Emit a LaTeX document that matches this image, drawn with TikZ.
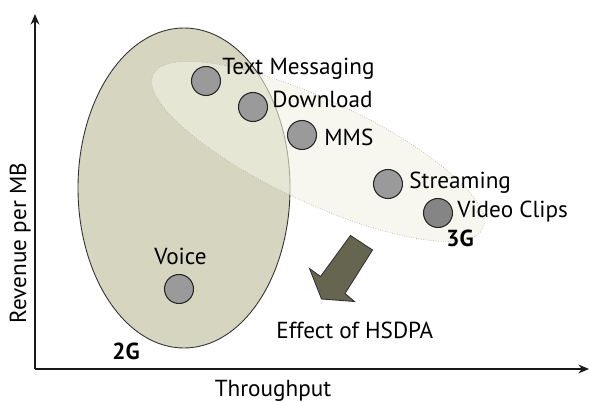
\documentclass[tikz,border=0pt]{standalone}
\usepackage{fontspec}
\setmainfont{PT Sans}
\definecolor{TwoGFill}{HTML}{D6D6C0}
\definecolor{ThreeGFill}{HTML}{F2F2E4}
\definecolor{SvcGray}{HTML}{9A9A9A}
\definecolor{SvcDark}{HTML}{858585}
\definecolor{ArrowOlive}{HTML}{666650}
\usetikzlibrary{arrows.meta, positioning}

\begin{document}
\begin{tikzpicture}[>={Stealth[length=6pt,width=5pt]},
    svc/.style={circle, draw=black!85, line width=0.6pt, fill=SvcGray,
                minimum size=0.58cm, inner sep=0pt},
    lbl/.style={anchor=base west, inner sep=0pt, font=\fontsize{13.2}{15}\selectfont},
    gen/.style={inner sep=0pt, font=\fontsize{13.2}{15}\selectfont\bfseries}]
  \useasboundingbox (0,0) rectangle (11.8,8.02);
  % generations
  \draw[fill=TwoGFill, draw=black!80, line width=0.5pt] (3.68,4.26) ellipse (2.12 and 3.20);
  \draw[fill=ThreeGFill, fill opacity=0.6, draw=gray!60, densely dotted, line width=0.4pt,
        shift={(6.36,4.99)}, rotate=-25] (0,0) ellipse (3.64 and 1.03);
  % services
  \node[svc] (txt) at (4.12,6.40) {};
  \node[svc] (dl) at (5.06,5.88) {};
  \node[svc] (mms) at (6.04,5.32) {};
  \node[svc] (strm) at (7.76,4.34) {};
  \node[svc, fill=SvcDark] (vid) at (8.76,3.76) {};
  \node[svc] (voice) at (3.58,2.24) {};
  \node[lbl] (txtl) at (4.44,6.52) {Text Messaging};
  \node[lbl] (dll) at (5.44,5.86) {Download};
  \node[lbl] (mmsl) at (6.48,5.10) {MMS};
  \node[lbl] (strml) at (8.18,4.24) {Streaming};
  \node[lbl] (vidl) at (9.14,3.66) {Video Clips};
  \node[lbl, anchor=base] (voicel) at (3.61,2.72) {Voice};
  \node[gen, anchor=base west] (g3) at (8.92,3.08) {3G};
  \node[gen, anchor=base west] (g2) at (2.24,0.82) {2G};
  % HSDPA shift
  \draw[fill=ArrowOlive, draw=black!80, line width=0.5pt, line join=miter]
    (7.01,3.31) -- (7.45,3.02) -- (6.90,2.15) -- (7.09,1.99) -- (6.43,2.04)
    -- (6.19,2.65) -- (6.41,2.49) -- cycle;
  \node[lbl] (hsdpa) at (5.52,1.24) {Effect of HSDPA};
  % axes
  \coordinate (origin) at (0.70,0.64);
  \coordinate (ytop) at (0.70,7.74);
  \coordinate (xend) at (11.78,0.64);
  \draw[->, line width=1.4pt, black!90] (origin) -- (ytop);
  \draw[->, line width=1.4pt, black!90] (origin) -- (xend);
  \node[lbl, anchor=base] (xlab) at (5.46,0.08) {Throughput};
  \node[lbl, anchor=base, rotate=90] (ylab) at (0.52,3.16) {Revenue per MB};
\end{tikzpicture}
\end{document}
